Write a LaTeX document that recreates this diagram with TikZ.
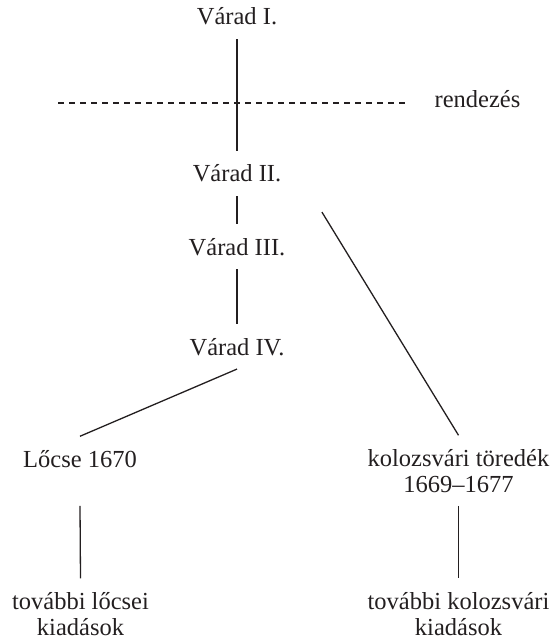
\documentclass[tikz,border=0pt]{standalone}
\usepackage{fontspec}
\setmainfont{Liberation Serif}
\usetikzlibrary{calc}
\definecolor{ink}{HTML}{231F20}

\begin{document}
\begin{tikzpicture}[x=1pt,y=-1pt,
every node/.style={anchor=base,inner sep=13.5pt,align=center,text=ink,
  font=\fontsize{24.5}{26}\selectfont},
link/.style={draw=ink,line width=1.3pt},
cut/.style={draw=ink,line width=1.3pt,dash pattern=on 6pt off 5pt}]

\useasboundingbox (0,0) rectangle (554,639);

\node (v1) at (237,25) {Várad I.};
\node (v2) at (237,182) {Várad II.};
\node (v3) at (237,255) {Várad III.};
\node (v4) at (237,355) {Várad IV.};
\node (rz) at (477.5,108) {rendezés};
\node (lo) at (80,467) {Lőcse 1670};
\node (ko) at (458.5,492) {kolozsvári töredék\\1669–1677};
\node (lt) at (80.5,635) {további lőcsei\\kiadások};
\node (kt) at (458.5,635) {további kolozsvári\\kiadások};

% rendezes
\coordinate (dl) at (58,103);
\draw[cut] (dl) -- ([xshift=-16pt]dl -| rz.west);

\draw[link] (v1) -- (v2);
\draw[link] (v2) -- (v3);
\draw[link] (v3) -- (v4);
\draw[link] (v4.south) -- (lo.north);
\draw[link] ($(v2.south east)+(27,16)$) -- (ko.north);
\draw[link] (lo.south |- ko.south) -- (lt.north);
\draw[link] (ko) -- (kt);

\end{tikzpicture}
\end{document}
